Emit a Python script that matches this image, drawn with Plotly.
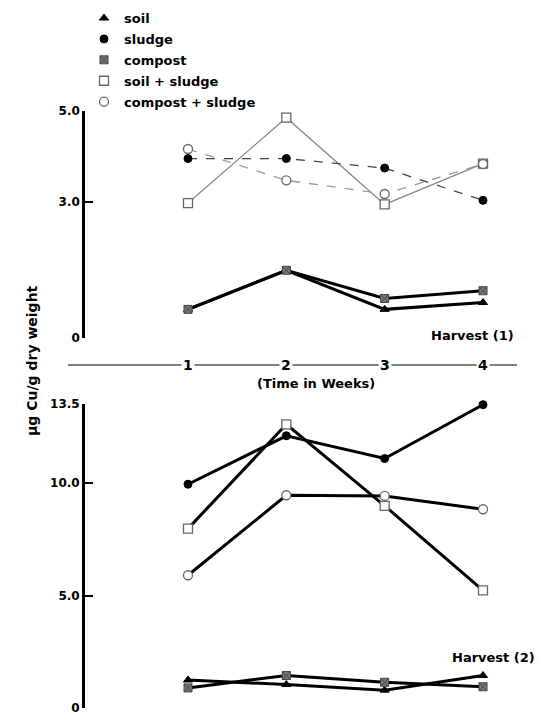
import plotly.graph_objects as go

weeks = [1, 2, 3, 4]
week_labels = ["1", "2", "3", "4"]
series_names = ["soil", "sludge", "compost", "soil + sludge", "compost + sludge"]

# Harvest (1)
h1_soil = [0.63, 1.49, 0.63, 0.78]
h1_sludge = [3.95, 3.95, 3.74, 3.03]
h1_compost = [0.63, 1.49, 0.87, 1.04]
h1_soil_sludge = [2.97, 4.85, 2.94, 3.84]
h1_compost_sludge = [4.16, 3.47, 3.17, 3.83]

# Harvest (2)
h2_soil = [1.25, 1.05, 0.80, 1.45]
h2_sludge = [9.94, 12.09, 11.08, 13.47]
h2_compost = [0.90, 1.45, 1.15, 0.95]
h2_soil_sludge = [7.97, 12.60, 8.98, 5.23]
h2_compost_sludge = [5.90, 9.45, 9.42, 8.83]

h1_ticks = [0, 3.0, 5.0]
h1_ticktext = ["0", "3.0", "5.0"]
h2_ticks = [0, 5.0, 10.0, 13.5]
h2_ticktext = ["0", "5.0", "10.0", "13.5"]

W, H = 539, 719


def px(sx):
    return sx / W


def py(sy):
    # vertical placement helper (compensates the observed render scaling)
    return 1 - ((sy - 6.2) / 0.98) / H


FONT = "DejaVu Sans, Arial, sans-serif"

markers = {
    "soil": dict(symbol="triangle-up", size=8, color="black", line=dict(color="black", width=1)),
    "sludge": dict(symbol="circle", size=8, color="black", line=dict(color="black", width=1)),
    "compost": dict(symbol="square-x", size=8, color="#777", line=dict(color="#444", width=1)),
    "soil + sludge": dict(symbol="square", size=9, color="white", line=dict(color="#666", width=1.3)),
    "compost + sludge": dict(symbol="circle", size=9, color="white", line=dict(color="#666", width=1.3)),
}

fig = go.Figure()

top_styles = {
    "soil": dict(color="black", width=3),
    "sludge": dict(color="#444", width=1.3, dash="dash"),
    "compost": dict(color="black", width=3),
    "soil + sludge": dict(color="#888", width=1.3),
    "compost + sludge": dict(color="#999", width=1.3, dash="dash"),
}
top_data = {"soil": h1_soil, "sludge": h1_sludge, "compost": h1_compost,
            "soil + sludge": h1_soil_sludge, "compost + sludge": h1_compost_sludge}
bot_data = {"soil": h2_soil, "sludge": h2_sludge, "compost": h2_compost,
            "soil + sludge": h2_soil_sludge, "compost + sludge": h2_compost_sludge}

for name in ["soil + sludge", "compost + sludge", "sludge", "soil", "compost"]:
    fig.add_trace(go.Scatter(x=weeks, y=top_data[name], mode="lines+markers",
                             line=top_styles[name], marker=markers[name],
                             showlegend=False, cliponaxis=False, xaxis="x", yaxis="y"))

for name in ["soil + sludge", "compost + sludge", "sludge", "soil", "compost"]:
    fig.add_trace(go.Scatter(x=weeks, y=bot_data[name], mode="lines+markers",
                             line=dict(color="black", width=3), marker=markers[name],
                             showlegend=False, cliponaxis=False, xaxis="x2", yaxis="y2"))

# legend-only entries (markers only, as in the original key)
for name in series_names:
    fig.add_trace(go.Scatter(x=[None], y=[None], mode="markers", marker=markers[name],
                             name=name, legendgroup=name, showlegend=True,
                             xaxis="x", yaxis="y"))

# x scale: week 1 at screen x 188, week 4 at 483; y axis line at screen x 85
ppw = (483 - 188) / 3
x_left, x_right = 85, 525
xr = [1 - (188 - x_left) / ppw, 1 + (x_right - 188) / ppw]
xdom = [px(x_left), px(x_right)]
axis_font = dict(family=FONT, size=12, color="black", weight="bold")

fig.update_layout(
    width=W, height=H,
    margin=dict(l=0, r=0, t=0, b=0),
    paper_bgcolor="white", plot_bgcolor="white",
    showlegend=True,
    legend=dict(x=px(84), y=1 + 4 / H, xanchor="left", yanchor="top",
                font=dict(family=FONT, size=13, color="black", weight="bold"),
                bgcolor="rgba(0,0,0,0)", tracegroupgap=1, itemwidth=30),
    xaxis=dict(domain=xdom, range=xr, visible=False, anchor="y"),
    yaxis=dict(domain=[py(337), py(110)], range=[0, 5], anchor="x",
               showline=True, linecolor="black", linewidth=2.5,
               ticks="inside", ticklen=8, tickwidth=2, tickcolor="black",
               tickvals=h1_ticks, ticktext=h1_ticktext, tickfont=axis_font,
               showgrid=False, zeroline=False),
    xaxis2=dict(domain=xdom, range=xr, visible=False, anchor="y2"),
    yaxis2=dict(domain=[py(707), py(403)], range=[0, 13.5], anchor="x2",
                showline=True, linecolor="black", linewidth=2.8,
                ticks="inside", ticklen=8, tickwidth=2, tickcolor="black",
                tickvals=h2_ticks, ticktext=h2_ticktext, tickfont=axis_font,
                showgrid=False, zeroline=False),
)

# shared time axis line between the panels
fig.add_shape(type="line", xref="paper", yref="paper",
              x0=px(68), x1=px(517), y0=py(364), y1=py(364),
              line=dict(color="#555", width=1.5), layer="below")

for w, lab in zip(weeks, week_labels):
    fig.add_annotation(x=w, xref="x", y=py(364), yref="paper", text=lab,
                       showarrow=False, bgcolor="white", borderpad=1,
                       font=dict(family=FONT, size=14, color="black", weight="bold"))

fig.add_annotation(x=px(377), y=py(382), xref="paper", yref="paper",
                   text="(Time in Weeks)", showarrow=False,
                   font=dict(family=FONT, size=13, color="black", weight="bold"))
fig.add_annotation(x=px(516), y=py(335), xref="paper", yref="paper", xanchor="right",
                   text="Harvest (1)", showarrow=False,
                   font=dict(family=FONT, size=13, color="black", weight="bold"))
fig.add_annotation(x=px(537), y=py(666), xref="paper", yref="paper", xanchor="right",
                   text="Harvest (2)", showarrow=False,
                   font=dict(family=FONT, size=13, color="black", weight="bold"))
fig.add_annotation(x=px(22), y=py(360), xref="paper", yref="paper", textangle=-90,
                   text="μg Cu/g dry weight", showarrow=False,
                   font=dict(family=FONT, size=14, color="black", weight="bold"))

fig.write_html("out.html", config={"displayModeBar": False},
               post_script="document.body.style.margin='0px';")
